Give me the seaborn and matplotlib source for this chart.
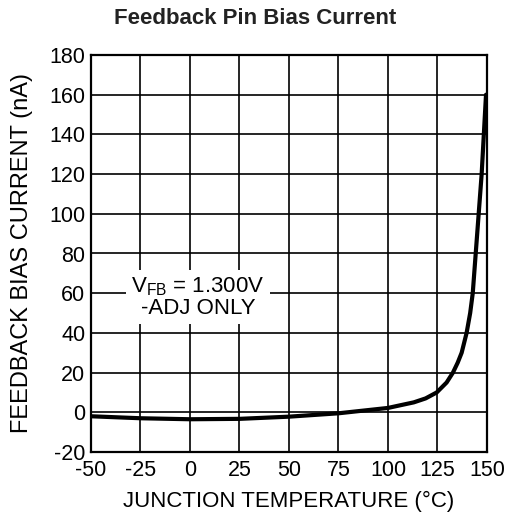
import numpy as np
import pandas as pd
import seaborn as sns
import matplotlib.pyplot as plt

# Curve
temp_c = [-50, -25, 0, 25, 50, 75, 100, 106, 113, 119, 124.6, 129.6, 132.8,
          135.2, 137.2, 139.7, 141.5, 142.8, 144.3, 145.8, 147.3, 148.4, 149.5]
bias_na = [-2.0, -3.0, -3.5, -3.3, -2.2, -0.5, 2.2, 3.5, 5.0, 7.0, 10.0, 15.0,
           20.0, 25.0, 30.0, 40.0, 50.0, 60.0, 80.0, 100.0, 120.0, 140.0, 160.0]

x_ticks = [-50, -25, 0, 25, 50, 75, 100, 125, 150]
y_ticks = list(range(-20, 181, 20))

df = pd.DataFrame({"temp": temp_c, "bias": bias_na})

sns.set_style("white")
plt.rcParams["font.family"] = ["Liberation Sans", "DejaVu Sans"]
plt.rcParams["axes.unicode_minus"] = False
plt.rcParams["text.color"] = "black"
plt.rcParams["axes.labelcolor"] = "black"

fig = plt.figure(figsize=(5.10, 5.17), dpi=100)
ax = fig.add_axes([91 / 510, 1 - 452 / 517, 396 / 510, 397 / 517])

sns.lineplot(data=df, x="temp", y="bias", color="black", linewidth=3, ax=ax)

ax.set_xlim(-50, 150)
ax.set_ylim(-20, 180)
ax.set_xticks(x_ticks)
ax.set_yticks(y_ticks)
ax.tick_params(labelsize=15.5, length=0, colors="black")
ax.tick_params(axis="x", pad=6)
ax.tick_params(axis="y", pad=4)
ax.grid(True, color="black", linewidth=1.2)
for s in ax.spines.values():
    s.set_color("black")
    s.set_linewidth(1.6)

ax.set_xlabel("JUNCTION TEMPERATURE (°C)", fontsize=16, labelpad=7)
ax.set_ylabel("FEEDBACK BIAS CURRENT (nA)", fontsize=17, labelpad=12)

ax.text(4, 58, "$\\mathregular{V_{FB}}$ = 1.300V\n-ADJ ONLY", fontsize=16,
        ha="center", va="center", linespacing=0.95,
        bbox=dict(facecolor="white", edgecolor="none", pad=4))

fig.text(0.5, 1 - 18 / 517, "Feedback Pin Bias Current", ha="center",
         va="center", fontsize=16, fontweight="bold", color="#222222")

fig.savefig("out.png", dpi=100)
